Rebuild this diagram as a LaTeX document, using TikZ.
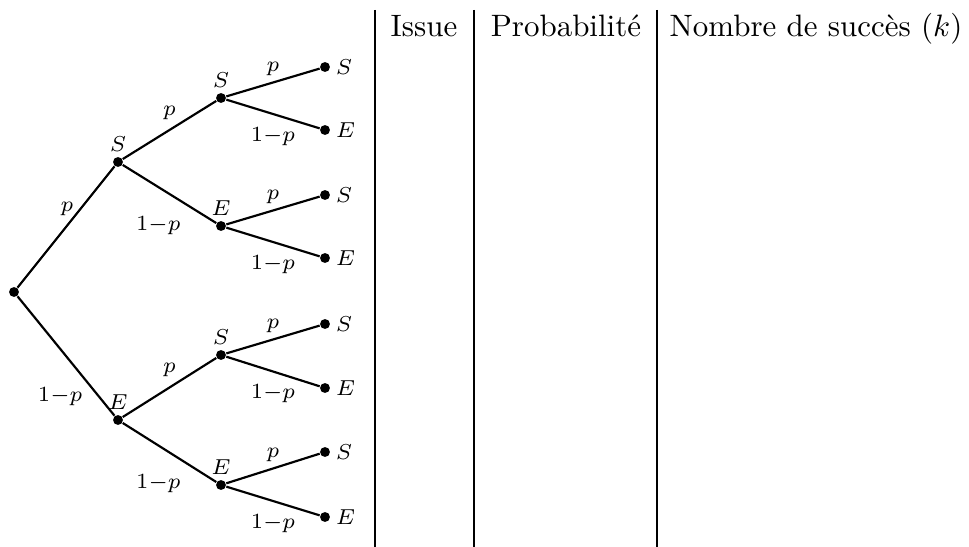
\documentclass[tikz,border=0pt]{standalone}
\usepackage{amsmath}
\usetikzlibrary{positioning}
\begin{document}
\begin{tikzpicture}[x=0.01136cm, y=-0.01136cm,
  pt/.style={circle, fill, inner sep=0pt, minimum size=3.2pt},
  br/.style={line width=0.7pt},
  lbl/.style={font=\scriptsize, inner sep=1.5pt},
  proba/.style={font=\scriptsize, inner sep=2pt},
  entete/.style={anchor=base}]
\useasboundingbox (0,0) rectangle (969,547);
% arbre
\node[pt] (r) at (14,292) {};
\node[pt, label={[lbl]above:$S$}] (s) at (118,162) {};
\node[pt, label={[lbl]above:$E$}] (e) at (118,420) {};
\node[pt, label={[lbl]above:$S$}] (ss) at (221,98) {};
\node[pt, label={[lbl]above:$E$}] (se) at (221,226) {};
\node[pt, label={[lbl]above:$S$}] (es) at (221,355) {};
\node[pt, label={[lbl]above:$E$}] (ee) at (221,485) {};
\node[pt, label={[lbl]right:$S$}] (sss) at (325,67) {};
\node[pt, label={[lbl]right:$E$}] (sse) at (325,130) {};
\node[pt, label={[lbl]right:$S$}] (ses) at (325,195) {};
\node[pt, label={[lbl]right:$E$}] (see) at (325,258) {};
\node[pt, label={[lbl]right:$S$}] (ess) at (325,324) {};
\node[pt, label={[lbl]right:$E$}] (ese) at (325,388) {};
\node[pt, label={[lbl]right:$S$}] (ees) at (325,452) {};
\node[pt, label={[lbl]right:$E$}] (eee) at (325,517) {};
% branches
\draw[br] (r) -- node[proba, pos=0.65, left=0pt] {$p$} (s);
\draw[br] (r) -- node[proba, pos=0.84, left=3pt] {$1{-}p$} (e);
\foreach \a/\b/\c in {s/ss/se, e/es/ee}{
  \draw[br] (\a) -- node[proba, midway, above=1pt] {$p$} (\b);
  \draw[br] (\a) -- node[proba, pos=0.72, below left=1pt] {$1{-}p$} (\c);
}
\foreach \a/\b/\c in {ss/sss/sse, se/ses/see, es/ess/ese, ee/ees/eee}{
  \draw[br] (\a) -- node[proba, midway, above=0pt] {$p$} (\b);
  \draw[br] (\a) -- node[proba, midway, below=2pt] {$1{-}p$} (\c);
}
% tableau
\coordinate (h1) at (375,10);
\coordinate (b1) at (375,547);
\coordinate (h2) at (474,10);
\coordinate (b2) at (474,547);
\coordinate (h3) at (657,10);
\coordinate (b3) at (657,547);
\draw[line width=0.4pt] (h1) -- (b1) (h2) -- (b2) (h3) -- (b3);
\node[entete] (issue) at (424,37) {Issue};
\node[entete] (proba) at (566,37) {Probabilité};
\node[entete] (nb) at (816,37) {Nombre de succès $(k)$};
\end{tikzpicture}
\end{document}
